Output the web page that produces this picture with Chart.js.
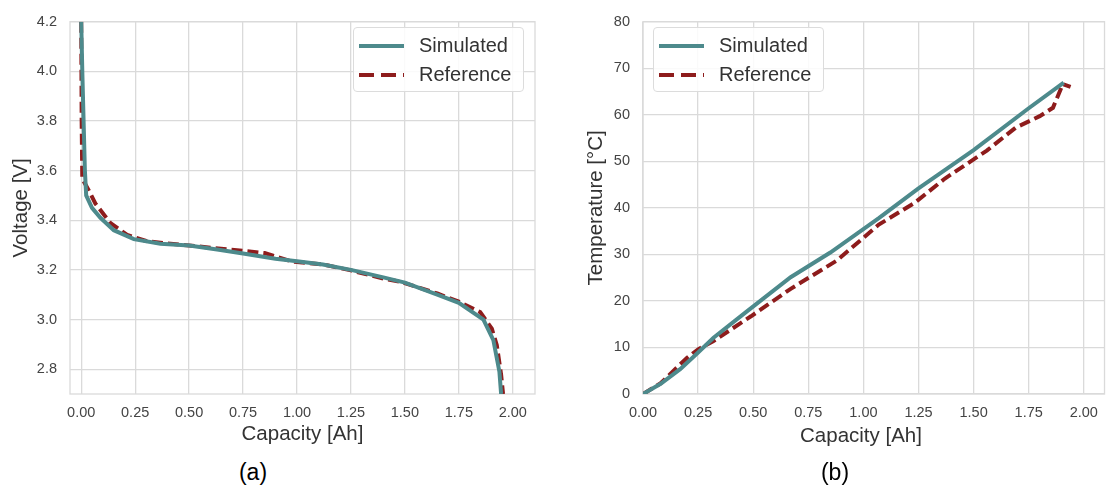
<!DOCTYPE html>
<html>
<head>
<meta charset="utf-8">
<script src="https://cdn.jsdelivr.net/npm/chart.js@4.4.1/dist/chart.umd.min.js"></script>
<style>
    body { margin: 0; background: #fff; width: 1108px; height: 488px; position: relative; overflow: hidden;
           font-family: "Liberation Sans", Arial, sans-serif; }
    canvas { position: absolute; top: 0; }
    .legend { position: absolute; box-sizing: border-box; height: 65px; border: 1px solid #dcdcdc; border-radius: 4px;
              background: rgba(255,255,255,0.85); padding-top: 3px; }
    .legend .row { height: 29px; display: flex; align-items: center; font-size: 20px; color: #333; }
    .legend svg { margin-left: 5px; margin-right: 15px; }
    .label { position: absolute; color: #333; white-space: nowrap; transform: translate(-50%, -50%); }
    .sub { font-size: 23px; color: #000; }
</style>
</head>
<body>
<canvas id="chartA" width="545" height="450" style="left:0px"></canvas>
<canvas id="chartB" width="548" height="450" style="left:560px"></canvas>
<div class="legend" id="legendA" style="left:353px; top:27px; width:171px;"></div>
<div class="legend" id="legendB" style="left:653px; top:27px; width:171px;"></div>
<div class="label" style="left:861px; top:435px; font-size:20.5px;">Capacity [Ah]</div>
<div class="label sub" style="left:253px; top:472px;">(a)</div>
<div class="label sub" style="left:835px; top:472px;">(b)</div>
<script>
// ---- data (a): voltage vs capacity
const voltCapSim = [0.000, 0.005, 0.017, 0.023, 0.050, 0.089, 0.151, 0.244, 0.367, 0.50, 0.63, 0.75, 0.90, 1.00, 1.12, 1.25, 1.40, 1.50, 1.65, 1.75, 1.864, 1.91, 1.938, 1.946];
const voltSim    = [4.20, 4.00, 3.60, 3.50, 3.45, 3.41, 3.36, 3.324, 3.305, 3.298, 3.282, 3.266, 3.245, 3.235, 3.222, 3.200, 3.170, 3.149, 3.100, 3.067, 3.000, 2.917, 2.790, 2.700];
const voltCapRef = [0.000, 0.002, 0.005, 0.035, 0.066, 0.136, 0.213, 0.306, 0.50, 0.75, 0.85, 0.98, 1.12, 1.25, 1.40, 1.48, 1.65, 1.75, 1.849, 1.903, 1.926, 1.946, 1.955];
const voltRef    = [4.20, 3.80, 3.567, 3.52, 3.467, 3.388, 3.341, 3.315, 3.298, 3.277, 3.268, 3.233, 3.222, 3.198, 3.165, 3.152, 3.105, 3.072, 3.030, 2.963, 2.897, 2.778, 2.700];

// ---- data (b): temperature vs capacity
const tempCapSim = [0, 0.08, 0.17, 0.25, 0.32, 0.47, 0.67, 0.85, 1.07, 1.25, 1.50, 1.75, 1.909];
const tempSim    = [0, 2.2, 5.4, 8.9, 12.1, 17.7, 25.1, 30.4, 37.8, 44.2, 52.4, 61.4, 66.9];
const tempCapRef = [0, 0.08, 0.20, 0.25, 0.32, 0.49, 0.67, 0.88, 1.07, 1.23, 1.37, 1.56, 1.69, 1.80, 1.86, 1.905, 1.94];
const tempRef    = [0, 2.3, 7.8, 9.6, 11.4, 16.7, 22.6, 28.7, 36.4, 41.0, 46.3, 52.3, 57.2, 59.7, 61.5, 66.6, 66.0];

// ---- ticks
const capTicks  = [0, 0.25, 0.5, 0.75, 1.0, 1.25, 1.5, 1.75, 2.0];
const voltTicks = [2.8, 3.0, 3.2, 3.4, 3.6, 3.8, 4.0, 4.2];
const tempTicks = [0, 10, 20, 30, 40, 50, 60, 70, 80];

const teal = '#4d8a8c';
const darkRed = '#8e1c1c';
const gridColor = '#dadada';
const tickColor = '#444';
const titleColor = '#333';

Chart.defaults.font.family = '"Liberation Sans", Arial, sans-serif';

function pairs(xs, ys) {
    return xs.map((x, i) => ({x: x, y: ys[i]}));
}

// light frame round the plot area, like the seaborn whitegrid look
const framePlugin = {
    id: 'frame',
    beforeDatasetsDraw(chart) {
        const {ctx, chartArea: a} = chart;
        ctx.save();
        ctx.strokeStyle = gridColor;
        ctx.lineWidth = 1.3;
        ctx.strokeRect(a.left, a.top, a.right - a.left, a.bottom - a.top);
        ctx.restore();
    }
};

function datasets(simX, simY, refX, refY) {
    return [{
        label: 'Simulated',
        data: pairs(simX, simY),
        borderColor: teal,
        borderWidth: 4,
        pointRadius: 0,
        showLine: true,
        tension: 0
    }, {
        label: 'Reference',
        data: pairs(refX, refY),
        borderColor: darkRed,
        borderWidth: 4,
        borderDash: [11, 5],
        pointRadius: 0,
        showLine: true,
        tension: 0
    }];
}

function scaleX(min, max, showTitle) {
    return {
        type: 'linear', min: min, max: max,
        afterBuildTicks: s => { s.ticks = capTicks.map(v => ({value: v})); },
        afterFit: s => { s.height = 56; },
        grid: {color: gridColor, lineWidth: 1.3, drawTicks: false},
        border: {display: false},
        ticks: {padding: 10, color: tickColor, font: {size: 14.5}, maxRotation: 0, autoSkip: false,
                callback: v => v.toFixed(2)},
        title: {display: showTitle, text: 'Capacity [Ah]', color: titleColor, font: {size: 20.5},
                padding: {top: 0, bottom: 3}}
    };
}

function scaleY(min, max, ticks, digits, width, title, titlePad) {
    return {
        type: 'linear', min: min, max: max,
        afterBuildTicks: s => { s.ticks = ticks.map(v => ({value: v})); },
        afterFit: s => { s.width = width; },
        grid: {color: gridColor, lineWidth: 1.3, drawTicks: false},
        border: {display: false},
        ticks: {padding: 13, color: tickColor, font: {size: 14.5}, autoSkip: false,
                callback: v => v.toFixed(digits)},
        title: {display: true, text: title, color: titleColor, font: {size: 20.5},
                padding: {top: titlePad, bottom: 0}}
    };
}

function makeChart(id, data, x, y, padding) {
    return new Chart(document.getElementById(id), {
        type: 'scatter',
        data: {datasets: data},
        options: {
            responsive: false,
            animation: false,
            layout: {padding: padding},
            plugins: {legend: {display: false}, tooltip: {enabled: false}},
            scales: {x: x, y: y}
        },
        plugins: [framePlugin]
    });
}

function buildLegend(chart, el) {
    chart.data.datasets.forEach(ds => {
        const dash = ds.borderDash ? 'stroke-dasharray="15 7"' : '';
        el.innerHTML += `<div class="row">
            <svg width="45" height="6"><line x1="0" y1="3" x2="45" y2="3" stroke="${ds.borderColor}" stroke-width="4" ${dash}/></svg>
            <span>${ds.label}</span></div>`;
    });
}

const chartA = makeChart('chartA',
    datasets(voltCapSim, voltSim, voltCapRef, voltRef),
    scaleX(-0.052, 2.103, true),
    scaleY(2.7, 4.2, voltTicks, 1, 70, 'Voltage [V]', 9),
    {left: 0, top: 16, right: 10, bottom: 0});

const chartB = makeChart('chartB',
    datasets(tempCapSim, tempSim, tempCapRef, tempRef),
    scaleX(0, 2.094, false),
    scaleY(0, 80, tempTicks, 0, 83, 'Temperature [°C]', 24),
    {left: 0, top: 16, right: 2, bottom: 0});

buildLegend(chartA, document.getElementById('legendA'));
buildLegend(chartB, document.getElementById('legendB'));
</script>
</body>
</html>
